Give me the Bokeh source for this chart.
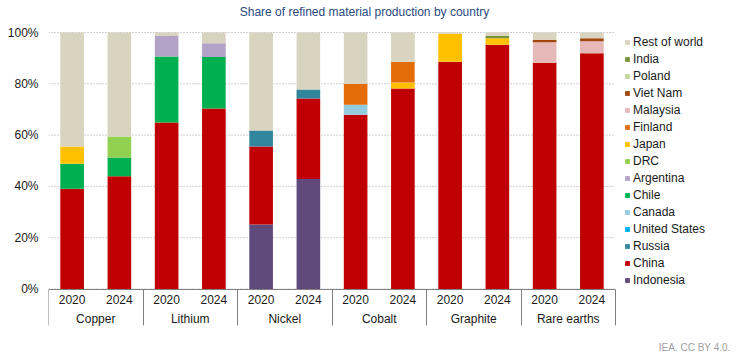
from bokeh.plotting import figure
from bokeh.models import (Range1d, LinearAxis, FixedTicker, PrintfTickFormatter,
                          Legend, LegendItem, Label, ColumnDataSource)
from bokeh.embed import file_html
from bokeh.resources import INLINE

# ---------------- data ----------------
materials = ["Copper", "Lithium", "Nickel", "Cobalt", "Graphite", "Rare earths"]
years = ["2020", "2024"]

# order of bars: Cu20, Cu24, Li20, Li24, Ni20, Ni24, Co20, Co24, Gr20, Gr24, RE20, RE24
indonesia = [0, 0, 0, 0, 25.1, 42.9, 0, 0, 0, 0, 0, 0]
china = [39.1, 44.0, 64.9, 70.4, 30.5, 31.4, 67.9, 78.2, 88.6, 95.2, 88.2, 91.9]
russia = [0, 0, 0, 0, 6.2, 3.5, 0, 0, 0, 0, 0, 0]
united_states = [0, 0, 0, 0, 0, 0, 0, 0, 0, 0, 0, 0]
canada = [0, 0, 0, 0, 0, 0, 3.9, 0, 0, 0, 0, 0]
chile = [9.7, 7.3, 25.7, 20.0, 0, 0, 0, 0, 0, 0, 0, 0]
argentina = [0, 0, 8.0, 5.4, 0, 0, 0, 0, 0, 0, 0, 0]
drc = [0, 8.2, 0, 0, 0, 0, 0, 0, 0, 0, 0, 0]
japan = [6.8, 0, 0, 0, 0, 0, 0, 2.3, 10.9, 2.6, 0, 0]
finland = [0, 0, 0, 0, 0, 0, 8.2, 8.1, 0, 0, 0, 0]
malaysia = [0, 0, 0, 0, 0, 0, 0, 0, 0, 0, 8.0, 4.7]
viet_nam = [0, 0, 0, 0, 0, 0, 0, 0, 0, 0, 1.0, 1.2]
poland = [0, 0, 0, 0, 0, 0, 0, 0, 0, 0, 0, 0]
india = [0, 0, 0, 0, 0, 0, 0, 0, 0, 0.9, 0, 0]
rest_of_world = [44.4, 40.5, 1.4, 4.2, 38.2, 22.2, 20.0, 11.4, 0.5, 1.3, 2.8, 2.2]

countries = ["Indonesia", "China", "Russia", "United States", "Canada", "Chile",
             "Argentina", "DRC", "Japan", "Finland", "Malaysia", "Viet Nam",
             "Poland", "India", "Rest of world"]
series = [indonesia, china, russia, united_states, canada, chile, argentina, drc,
          japan, finland, malaysia, viet_nam, poland, india, rest_of_world]
colors = ["#604A7B", "#C00000", "#31859C", "#00B0F0", "#93CDDD", "#00B050",
          "#B3A2C7", "#92D050", "#FFC000", "#E36C09", "#E6B9B8", "#A0460F",
          "#C3D69B", "#76923C", "#D8D4C0"]

y_ticks = [0, 20, 40, 60, 80, 100]

# ---------------- layout helpers ----------------
n_groups = len(materials)
n_sub = len(years)
n_bars = n_groups * n_sub
bar_x = [g * n_sub + s + 0.5 for g in range(n_groups) for s in range(n_sub)]
group_x = [g * n_sub + n_sub / 2 for g in range(n_groups)]
boundaries = [g * n_sub for g in range(n_groups + 1)]

W, H = 739, 354
LEFT = 48
BARS_PX = 567            # pixel width of the bar area
PLOT_TOP = 32            # pixel y of 100 %
PLOT_BOTTOM = 288.5      # pixel y of 0 %
FRAME_W = W - LEFT
px_per_unit_y = (PLOT_BOTTOM - PLOT_TOP) / 100.0
x_end = n_bars * FRAME_W / BARS_PX
y_start = -(H - PLOT_BOTTOM) / px_per_unit_y
y_end = 100 + PLOT_TOP / px_per_unit_y

data = {"x": bar_x}
for name, vals in zip(countries, series):
    data[name] = vals
src = ColumnDataSource(data)

FONT = "Liberation Sans"
TXT = "#1a1a1a"

p = figure(width=W, height=H, output_backend="svg", toolbar_location=None,
           x_range=Range1d(0, x_end), y_range=Range1d(y_start, y_end),
           x_axis_type=None, min_border_left=LEFT, min_border_right=0,
           min_border_top=0, min_border_bottom=0, outline_line_color=None,
           background_fill_color="white", border_fill_color="white")
p.title.visible = False
p.ygrid.visible = False

# dotted gridlines over the bar area only
p.segment(x0=[0] * len(y_ticks), x1=[n_bars] * len(y_ticks), y0=y_ticks, y1=y_ticks,
          line_color="#A0A0A0", line_dash="1 2", line_width=1, level="underlay")

renderers = p.vbar_stack(countries, x="x", width=0.5, fill_color=colors,
                         line_color=None, source=src)

# y axis
yax = p.yaxis[0]
yax.ticker = FixedTicker(ticks=y_ticks)
yax.formatter = PrintfTickFormatter(format="%d%%")
yax.axis_line_color = None
yax.major_tick_line_color = None
yax.minor_tick_line_color = None
yax.major_tick_out = 0
yax.major_tick_in = 0
yax.major_label_standoff = 10
yax.major_label_text_font = FONT
yax.major_label_text_font_size = "12px"
yax.major_label_text_color = TXT

# x axis: years with group separators as long minor ticks (anchored at 0 %)
year_labels = {x: years[i % n_sub] for i, x in enumerate(bar_x)}
xax1 = LinearAxis(ticker=FixedTicker(ticks=bar_x, minor_ticks=boundaries),
                  bounds=(0, n_bars), fixed_location=0,
                  major_label_overrides=year_labels,
                  axis_line_color="#808080", axis_line_width=1,
                  major_tick_out=0, major_tick_in=0, major_tick_line_color=None,
                  minor_tick_out=36, minor_tick_in=0,
                  minor_tick_line_color="#808080", minor_tick_line_width=1,
                  major_label_standoff=-30, major_label_text_font=FONT,
                  major_label_text_font_size="12px", major_label_text_color=TXT)
p.add_layout(xax1, "below")

group_labels = {x: materials[i] for i, x in enumerate(group_x)}
xax2 = LinearAxis(ticker=FixedTicker(ticks=group_x), bounds=(0, n_bars),
                  fixed_location=0,
                  major_label_overrides=group_labels,
                  axis_line_color=None, major_tick_out=0, major_tick_in=0,
                  major_tick_line_color=None, minor_tick_line_color=None,
                  major_label_standoff=23, major_label_text_font=FONT,
                  major_label_text_font_size="12px", major_label_text_color=TXT)
p.add_layout(xax2, "below")

# legend (reverse order), placed right of the bars
items = [LegendItem(label=name, renderers=[r]) for name, r in zip(countries, renderers)]
items.reverse()
legend = Legend(items=items, location=(576, 66), orientation="vertical",
                glyph_width=6, glyph_height=6, label_height=17, spacing=0,
                padding=0, margin=0, label_standoff=3,
                border_line_color=None, background_fill_alpha=0,
                label_text_font=FONT, label_text_font_size="12px",
                label_text_color=TXT)
p.add_layout(legend)

# title and source note (screen units from the frame's bottom-left)
title = Label(x=316, y=H - 11, x_units="screen", y_units="screen",
              text="Share of refined material production by country",
              text_align="center", text_baseline="middle", text_font=FONT,
              text_font_size="12px", text_color="#2B4A7E")
p.add_layout(title)

note = Label(x=682, y=7, x_units="screen", y_units="screen",
             text="IEA. CC BY 4.0.", text_align="right", text_baseline="middle",
             text_font=FONT, text_font_size="10px", text_color="#A0A0A0")
p.add_layout(note)

open("out.html", "w").write(file_html(p, INLINE))
